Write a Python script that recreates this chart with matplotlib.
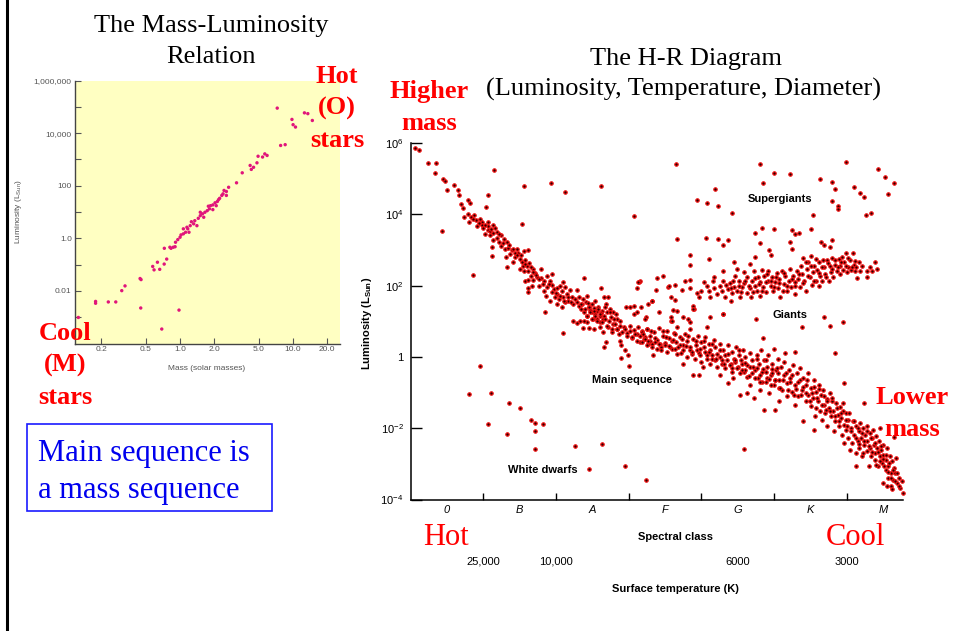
import numpy as np
import matplotlib
matplotlib.use("Agg")
import matplotlib.pyplot as plt
from matplotlib.lines import Line2D
from matplotlib.patches import Rectangle

plt.rcParams['font.family'] = ['Liberation Sans', 'DejaVu Sans']
plt.rcParams['mathtext.fontset'] = 'custom'
plt.rcParams['mathtext.rm'] = 'Liberation Sans'
plt.rcParams['mathtext.it'] = 'Liberation Sans:italic'
plt.rcParams['mathtext.bf'] = 'Liberation Sans:bold'

# ---- mass-luminosity relation: mass (solar masses), log10 luminosity ----
ml_mass = [0.126, 0.179, 0.179, 0.232, 0.270, 0.305, 0.326, 0.449, 0.443, 0.452,
           0.573, 0.589, 0.631, 0.661, 0.724, 0.762, 0.689, 0.979, 0.726, 0.832,
           0.904, 7.24, 9.77, 10.0, 10.5, 12.6, 13.5, 14.8, 7.76, 8.51,
           5.62, 5.89, 5.37, 4.90, 4.79, 4.47, 4.27, 4.17, 3.55, 3.16,
           2.69, 2.57, 2.40, 2.34, 2.24, 2.14, 2.04, 1.95, 1.86, 1.82,
           1.74, 1.66, 1.58, 1.51, 1.45, 1.35, 1.32, 1.23, 1.17, 1.12,
           1.07, 1.00, 0.955, 0.912, 0.871, 0.813, 1.26, 1.41, 1.62, 1.95,
           2.19, 2.45, 2.57, 1.20, 1.07, 1.51, 1.78, 2.09, 1.15, 1.02]
ml_logl = [-3.01, -2.40, -2.47, -2.42, -2.42, -1.99, -1.81, -2.65, -1.53, -1.57,
           -1.07, -1.20, -0.91, -1.18, -0.98, -0.79, -3.45, -2.73, -0.38, -0.38,
           -0.32, 4.95, 4.52, 4.32, 4.23, 4.77, 4.74, 4.48, 3.53, 3.56,
           3.21, 3.15, 3.09, 3.12, 2.87, 2.70, 2.62, 2.77, 2.49, 2.11,
           1.94, 1.78, 1.69, 1.63, 1.52, 1.40, 1.35, 1.27, 1.24, 1.12,
           1.05, 0.99, 0.93, 0.86, 0.76, 0.67, 0.55, 0.48, 0.36, 0.23,
           0.17, 0.04, -0.05, -0.15, -0.34, -0.34, 0.63, 0.48, 0.80, 1.09,
           1.47, 1.82, 1.63, 0.23, 0.36, 0.99, 1.22, 1.24, 0.42, 0.13]
ml_xticks = [0.2, 0.5, 1.0, 2.0, 5.0, 10.0, 20.0]
ml_xlabels = ['0.2', '0.5', '1.0', '2.0', '5.0', '10.0', '20.0']
ml_yticks = [1e-2, 1, 1e2, 1e4, 1e6]
ml_ylabels = ['0.01', '1.0', '100', '10,000', '1,000,000']

# ---- H-R diagram: (spectral position, log10 luminosity) ----
# spectral position: O = 0-1, B = 1-2, A = 2-3, F = 3-4, G = 4-5, K = 5-6, M = 6-
main_seq = [
    (0.06, 5.85), (0.12, 5.80), (0.24, 5.43), (0.35, 5.43), (0.33, 5.17), (0.44, 5.00),
    (0.47, 4.94), (0.60, 4.81), (0.50, 4.67), (0.65, 4.67), (0.66, 4.55), (0.79, 4.40),
    (0.82, 4.32), (0.70, 4.30), (0.72, 4.18), (0.79, 4.02), (0.87, 3.99), (0.74, 3.93),
    (0.83, 3.92), (0.81, 3.79), (0.90, 3.83), (0.92, 3.67), (0.98, 3.79), (0.98, 3.71),
    (0.94, 3.76), (1.00, 3.62), (1.06, 3.79), (1.07, 3.67), (1.13, 3.71), (1.06, 3.57),
    (1.09, 3.53), (1.14, 3.48), (1.19, 3.50), (1.02, 3.44), (1.09, 3.42), (1.13, 3.27),
    (1.19, 3.34), (1.25, 3.42), (1.28, 3.30), (1.21, 3.22), (1.32, 3.23), (1.25, 3.11),
    (1.12, 3.08), (1.30, 3.02), (1.34, 3.06), (1.39, 2.99), (1.41, 3.02), (1.46, 3.02),
    (1.48, 2.92), (1.37, 2.88), (1.31, 2.80), (1.44, 2.80), (1.50, 2.74), (1.56, 2.97),
    (1.62, 2.99), (1.53, 2.65), (1.58, 2.71), (1.41, 2.67), (1.33, 2.53), (1.54, 2.55),
    (1.60, 2.55), (1.63, 2.62), (1.51, 2.46), (1.56, 2.40), (1.62, 2.41), (1.69, 2.46),
    (1.71, 2.34), (1.65, 2.27), (1.74, 2.25), (1.79, 2.46), (1.58, 2.14), (1.62, 2.15),
    (1.69, 2.15), (1.80, 2.21), (1.84, 2.14), (1.88, 2.27), (1.94, 2.32), (1.92, 2.14),
    (1.62, 1.93), (1.61, 1.81), (1.67, 2.00), (1.77, 2.00), (1.83, 1.86), (1.87, 1.95),
    (1.94, 2.02), (1.97, 1.90), (2.01, 1.93), (2.05, 2.00), (2.09, 2.09), (2.13, 1.95),
    (2.08, 1.86), (2.02, 1.76), (1.98, 1.67), (1.86, 1.72), (1.92, 1.58), (2.04, 1.62),
    (2.10, 1.67), (2.15, 1.76), (2.19, 1.88), (2.29, 1.89), (2.22, 1.67), (2.17, 1.58),
    (2.13, 1.53), (2.01, 1.49), (2.08, 1.41), (2.24, 1.49), (2.32, 1.67), (2.37, 1.62),
    (2.42, 1.72), (2.29, 1.53), (2.36, 1.47), (2.41, 1.53), (2.45, 1.41), (2.49, 1.47),
    (2.54, 1.58), (2.58, 1.39), (2.63, 1.30), (2.69, 1.47), (2.72, 1.67), (2.67, 1.39),
    (2.74, 1.35), (2.79, 1.25), (2.83, 1.21), (2.49, 1.25), (2.54, 1.21), (2.60, 1.16),
    (2.42, 1.16), (2.39, 1.25), (2.24, 1.02), (2.33, 1.02), (2.51, 1.07), (2.65, 1.07),
    (2.73, 1.02), (2.84, 1.07), (2.88, 1.02), (3.02, 1.39), (3.07, 1.44), (3.12, 1.25),
    (3.17, 1.41), (3.24, 1.11), (1.85, 1.25),
    (2.10, 0.67), (2.29, 0.95), (2.37, 0.82), (2.45, 0.82), (2.52, 0.79), (2.42, 0.97),
    (2.60, 0.97), (2.65, 0.70), (2.66, 0.28), (2.69, 0.42), (2.72, 0.84), (2.77, 0.70),
    (2.79, 0.93), (2.84, 0.79), (2.86, 0.63), (2.88, 0.46), (2.90, 0.32), (2.90, -0.02),
    (2.95, 0.19), (2.99, 0.05), (3.00, -0.25), (2.93, 0.84), (2.97, 0.67), (3.02, 0.88),
    (3.04, 0.54), (3.07, 0.76), (3.11, 0.65), (3.13, 0.85), (3.16, 0.42), (3.18, 0.72),
    (3.23, 0.56), (3.25, 0.79), (3.27, 0.37), (2.61, 0.84), (2.56, 1.07),
    (3.18, 0.70), (3.21, 0.51), (3.25, 0.77), (3.29, 0.58), (3.32, 0.37), (3.33, 0.05),
    (3.35, 0.70), (3.39, 0.48), (3.42, 0.82), (3.44, 0.28), (3.47, 0.60), (3.50, 0.39),
    (3.52, 0.74), (3.56, 0.54), (3.58, 1.02), (3.59, 0.23), (3.62, 0.67), (3.65, 0.42),
    (3.67, 0.84), (3.70, 0.56), (3.72, 0.11), (3.74, 0.33), (3.75, -0.20), (3.78, 0.63),
    (3.80, 0.46), (3.84, 0.20), (3.84, 0.79), (3.88, 0.51), (3.89, -0.51), (3.92, 0.32),
    (3.95, 0.60), (3.96, -0.51), (3.97, 0.11), (3.99, 0.42), (4.02, -0.28), (4.03, 0.28),
    (4.05, 0.56), (4.07, 0.05), (4.10, 0.37), (4.12, 0.19), (4.14, -0.05), (4.17, 0.48),
    (4.19, 0.28), (4.21, 0.09), (4.25, -0.51), (4.26, 0.37), (4.28, -0.09), (4.30, 0.20),
    (4.33, 0.05), (4.36, -0.72), (4.37, 0.32), (4.40, -0.19), (4.42, 0.14), (4.43, -0.60),
    (4.45, -0.05), (4.48, 0.28), (4.50, -0.28), (4.51, 0.05), (4.53, -1.07), (4.54, -0.09),
    (4.57, 0.19), (4.59, -0.42), (4.60, 0.00), (4.62, -1.02), (4.63, -0.23), (4.66, 0.11),
    (4.67, -0.79), (4.70, -0.09), (4.72, -1.16), (4.73, -0.37), (4.76, 0.05), (4.77, -0.60),
    (4.79, -0.19), (4.81, -0.93), (4.82, 0.19), (4.83, -0.42), (4.86, -0.09), (4.86, -1.49),
    (4.88, -0.70), (4.90, -0.28), (4.92, 0.05), (4.93, -1.02), (4.95, -0.51), (4.97, -0.19),
    (4.99, 0.23), (5.00, -0.79), (5.01, -1.50), (5.03, -0.37), (5.05, -0.05), (5.06, -1.25),
    (5.07, -0.65), (5.09, -0.28), (5.11, -0.93), (5.13, -0.51), (5.14, -0.14), (5.15, 0.11),
    (5.17, -1.11), (5.18, -0.74), (5.20, -0.37), (5.22, -0.60), (5.24, -0.98), (5.26, -0.23),
    (5.28, 0.14), (5.28, -1.35), (5.29, -0.79), (5.31, -0.46), (5.33, -1.11), (5.35, -0.65),
    (5.36, -0.32), (5.38, -0.93), (5.40, -1.81), (5.40, -0.60), (5.43, -1.25), (5.44, -0.79),
    (5.46, -1.07), (5.47, -0.46), (5.50, -1.39), (5.50, -0.88), (5.53, -1.16), (5.54, -2.04),
    (5.55, -0.65), (5.56, -1.67), (5.58, -0.98), (5.60, -1.25), (5.61, -0.79), (5.63, -1.53),
    (5.64, -1.07), (5.66, -1.76), (5.67, -0.93), (5.69, -1.35), (5.70, -1.58), (5.72, -1.19),
    (5.73, -1.95), (5.75, -1.44), (5.76, -1.02), (5.78, -1.67), (5.79, -1.25), (5.81, -1.53),
    (5.82, -2.09), (5.84, -1.81), (5.85, -1.30), (5.87, -1.62), (5.89, -1.95), (5.90, -1.41),
    (5.92, -1.72), (5.93, -2.18), (5.95, -1.53), (5.96, -2.41), (5.96, -1.90), (5.98, -2.04),
    (5.99, -1.58), (6.01, -2.28), (6.02, -1.76), (6.04, -2.60), (6.05, -1.99), (6.07, -2.41),
    (6.08, -1.81), (6.09, -2.18), (6.12, -3.06), (6.12, -2.69), (6.13, -1.95), (6.15, -2.37),
    (6.16, -2.09), (6.17, -2.55), (6.18, -1.86), (6.19, -2.28), (6.21, -2.79), (6.22, -1.99),
    (6.23, -2.46), (6.24, -1.28), (6.25, -2.18), (6.27, -2.65), (6.27, -1.95), (6.28, -2.37),
    (6.30, -3.06), (6.31, -2.14), (6.32, -2.55), (6.33, -2.79), (6.34, -2.28), (6.36, -2.04),
    (6.37, -2.46), (6.38, -2.69), (6.39, -2.88), (6.40, -2.23), (6.41, -2.55), (6.42, -3.06),
    (6.44, -2.37), (6.45, -2.79), (6.46, -1.99), (6.47, -2.60), (6.48, -2.97), (6.49, -2.46),
    (6.50, -2.74), (6.53, -3.16), (6.54, -2.88), (6.55, -2.55), (6.56, -3.39), (6.57, -3.06),
    (6.59, -2.79), (6.60, -3.62), (6.61, -3.25), (6.62, -2.93), (6.63, -3.44), (6.64, -3.11),
    (6.65, -2.25), (6.66, -3.25), (6.68, -2.83), (6.69, -3.53), (6.71, -3.39), (6.73, -3.67),
    (6.77, -3.83), (6.55, -3.62), (6.49, -3.53), (6.62, -3.71),
]

# second pass over the crowded parts of the main sequence
main_seq_more = [
    (0.86, 3.86), (0.95, 3.88), (1.03, 3.70), (1.10, 3.60), (1.16, 3.62), (1.22, 3.45),
    (1.27, 3.20), (1.36, 3.15), (1.43, 2.92), (1.47, 2.85), (1.52, 2.86), (1.58, 2.60),
    (1.66, 2.52), (1.68, 2.38), (1.73, 2.30), (1.76, 2.18), (1.82, 2.05), (1.90, 2.05),
    (1.95, 1.82), (2.00, 1.80), (2.06, 1.72), (2.11, 1.58), (2.16, 1.68), (2.20, 1.55),
    (2.26, 1.62), (2.31, 1.42), (2.35, 1.35), (2.44, 1.52), (2.47, 1.32), (2.52, 1.38),
    (2.56, 1.30), (2.62, 1.22), (2.66, 1.15), (2.70, 1.27), (2.76, 1.12), (2.80, 1.05),
    (2.35, 1.49), (2.40, 1.35), (2.45, 1.39), (2.47, 1.25), (2.52, 1.30), (2.54, 1.16),
    (2.42, 1.16), (2.49, 1.07), (2.56, 1.02), (2.61, 1.21), (2.58, 1.35), (2.38, 1.02),
    (2.63, 0.97), (2.68, 1.07), (2.70, 0.88), (2.74, 1.25), (2.77, 0.79),
    (2.81, 0.93), (2.84, 0.79), (2.88, 0.88), (2.91, 0.70), (2.95, 0.79), (2.97, 0.60),
    (3.02, 0.74), (3.04, 0.56), (3.09, 0.65), (3.11, 0.46), (3.16, 0.60), (3.18, 0.42),
    (3.22, 0.51), (3.25, 0.32), (3.29, 0.46), (3.32, 0.28), (3.36, 0.42), (3.39, 0.23),
    (3.43, 0.37), (3.45, 0.19), (3.50, 0.32), (3.52, 0.14), (3.57, 0.28), (3.59, 0.46),
    (3.64, 0.23), (3.66, 0.09), (3.71, 0.32),
    (3.75, 0.19), (3.80, 0.00), (3.84, 0.28), (3.87, 0.09), (3.91, -0.05), (3.94, 0.19),
    (3.98, 0.05), (4.00, -0.14), (4.05, 0.14), (4.07, -0.05), (4.12, -0.19), (4.14, 0.05),
    (4.19, -0.09), (4.21, -0.28), (4.26, 0.00), (4.28, -0.19), (4.33, -0.32), (4.35, -0.09),
    (4.39, -0.23), (4.42, -0.42), (4.46, -0.14), (4.49, -0.32), (4.53, -0.46), (4.55, -0.19),
    (4.60, -0.37), (4.62, -0.56), (4.67, -0.28), (4.69, -0.46), (4.74, -0.60), (4.76, -0.32),
    (4.81, -0.51), (4.83, -0.70), (4.88, -0.42), (4.90, -0.60), (4.95, -0.79), (4.97, -0.46),
    (5.01, -0.65), (5.04, -0.32), (5.06, -0.88),
    (3.19, 0.63), (3.26, 0.45), (3.30, 0.72), (3.36, 0.54), (3.41, 0.35), (3.47, 0.74),
    (3.51, 0.56), (3.55, 0.30), (3.61, 0.48), (3.64, 0.65), (3.68, 0.28), (3.73, 0.51),
    (3.79, 0.30), (3.82, 0.58), (3.87, 0.14), (3.93, 0.45), (3.98, 0.23), (4.04, 0.46),
    (4.10, 0.14), (4.14, 0.35), (4.20, -0.07), (4.26, 0.19), (4.31, -0.19), (4.36, 0.09),
    (4.42, -0.32), (4.46, -0.09), (4.51, 0.19), (4.56, -0.37), (4.60, -0.17), (4.65, -0.54),
    (4.71, -0.28), (4.76, -0.05), (4.80, -0.70), (4.84, -0.35), (4.89, -0.09), (4.93, -0.63),
    (4.97, -0.35),
    (5.01, -0.65), (5.05, -0.46), (5.08, -0.88), (5.12, -0.65), (5.16, -0.45), (5.19, -0.93),
    (5.21, -0.70), (5.24, -0.51), (5.27, -1.07), (5.30, -0.91), (5.33, -0.70), (5.37, -1.07),
    (5.39, -0.85), (5.43, -1.02), (5.45, -0.65), (5.49, -1.23), (5.52, -1.00), (5.54, -0.85),
    (5.57, -1.44), (5.59, -1.16), (5.62, -0.91), (5.66, -1.35), (5.68, -1.11), (5.71, -1.49),
    (5.73, -1.25), (5.77, -1.53), (5.80, -1.16), (5.83, -1.67), (5.86, -1.44), (5.89, -1.81),
    (5.92, -1.58), (5.94, -1.30), (5.98, -1.76), (6.00, -1.95), (6.03, -1.58), (6.06, -2.09),
    (6.09, -1.81), (6.12, -2.27), (6.15, -1.99), (6.17, -2.43), (6.20, -2.14), (6.22, -2.69),
    (6.24, -2.37), (6.28, -2.09), (6.30, -2.51), (6.33, -2.27), (6.35, -2.67), (6.38, -2.41),
    (6.40, -3.02), (6.43, -2.67), (6.45, -2.92), (6.47, -2.51), (6.49, -2.86), (6.51, -3.06),
    (6.54, -2.74), (6.56, -3.23), (6.58, -2.97), (6.61, -3.39), (6.63, -3.16), (6.66, -3.48),
    (6.69, -3.25), (6.71, -3.62), (6.75, -3.48),
]

giants = [
    (3.16, 2.14), (3.32, 1.58), (3.38, 1.88), (3.39, 2.21), (3.47, 2.27), (3.54, 1.95),
    (3.58, 1.67), (3.63, 2.02), (3.64, 1.60), (3.73, 1.88), (3.77, 2.14), (3.84, 2.15),
    (3.84, 1.93), (3.88, 1.44), (3.90, 1.35), (3.94, 1.78), (3.96, 1.67), (3.99, 1.86),
    (4.03, 2.09), (4.07, 2.00), (4.10, 1.86), (4.12, 1.67), (4.16, 2.14), (4.17, 1.93),
    (4.17, 2.25), (4.22, 1.76), (4.25, 2.00), (4.28, 1.86), (4.29, 2.40), (4.30, 2.14),
    (4.33, 1.67), (4.36, 1.90), (4.39, 2.06), (4.40, 1.58), (4.42, 1.78), (4.45, 1.97),
    (4.46, 2.27), (4.49, 2.46), (4.49, 1.86), (4.52, 2.14), (4.53, 1.69), (4.56, 1.95),
    (4.58, 2.37), (4.59, 2.06), (4.62, 1.78), (4.63, 2.23), (4.66, 1.93), (4.68, 1.67),
    (4.70, 2.14), (4.72, 2.40), (4.74, 2.00), (4.76, 1.86), (4.77, 2.23), (4.80, 1.72),
    (4.81, 2.09), (4.83, 2.43), (4.84, 1.95), (4.86, 2.27), (4.89, 1.81), (4.91, 2.14),
    (4.92, 2.41), (4.95, 2.00), (4.97, 2.23), (4.98, 1.86), (5.01, 2.09), (5.04, 2.34),
    (5.05, 1.93), (5.07, 2.18), (5.08, 1.67), (5.11, 2.41), (5.13, 2.05), (5.15, 2.27),
    (5.18, 1.86), (5.20, 2.14), (5.21, 2.46), (5.23, 1.95), (5.26, 2.27), (5.28, 2.09),
    (5.29, 1.76), (5.31, 2.41), (5.32, 2.18), (5.35, 1.97), (5.37, 2.55), (5.38, 2.32),
    (5.40, 2.77), (5.41, 2.14), (5.43, 1.86), (5.45, 2.46), (5.47, 2.65), (5.49, 2.23),
    (5.50, 2.83), (5.52, 2.02), (5.53, 2.37), (5.55, 2.55), (5.57, 2.14), (5.59, 2.43),
    (5.61, 2.65), (5.62, 2.00), (5.63, 2.27), (5.66, 2.14), (5.67, 2.71), (5.69, 2.51),
    (5.70, 2.32), (5.72, 2.71), (5.75, 2.14), (5.76, 2.55), (5.78, 2.37), (5.79, 2.77),
    (5.81, 2.23), (5.84, 2.58), (5.86, 2.40), (5.89, 2.74), (5.90, 2.32), (5.91, 2.55),
    (5.93, 2.80), (5.95, 2.45), (5.96, 2.65), (5.99, 2.92), (6.00, 2.37), (6.01, 2.53),
    (6.04, 2.71), (6.05, 2.43), (6.08, 2.92), (6.09, 2.58), (6.11, 2.41), (6.14, 2.21),
    (6.16, 2.65), (6.18, 2.41), (6.27, 2.41), (6.28, 2.25), (6.34, 2.41), (6.38, 2.66),
    (6.41, 2.46), (6.13, 2.51),
]

giants_more = [
    (4.34, 2.02), (4.41, 1.93), (4.44, 2.14), (4.51, 2.00), (4.54, 1.81), (4.60, 2.14),
    (4.65, 2.00), (4.71, 1.81), (4.74, 2.21), (4.79, 2.04), (4.83, 1.86), (4.88, 2.09),
    (4.90, 2.32), (4.96, 2.14), (5.00, 1.95), (5.03, 2.23), (5.07, 2.06), (5.12, 1.86),
    (5.14, 2.34), (5.18, 2.00), (5.24, 2.18), (5.29, 2.00), (5.34, 2.32), (5.39, 2.06),
    (5.43, 2.65), (5.46, 2.27), (5.50, 2.55), (5.54, 2.14), (5.58, 2.74), (5.61, 2.34),
    (5.66, 2.53), (5.71, 2.23), (5.74, 2.62), (5.79, 2.46), (5.83, 2.71), (5.88, 2.51),
    (5.92, 2.65), (5.98, 2.55), (6.02, 2.77), (6.07, 2.51), (6.11, 2.69), (6.21, 2.55),
    (6.31, 2.51), (3.14, 2.09), (3.32, 1.58), (3.55, 2.00), (3.66, 1.30), (4.30, 1.21),
]

scattered = [
    # bright stars above the giant branch
    (3.65, 5.41), (4.81, 5.41), (5.99, 5.46), (4.99, 5.15), (5.21, 5.13), (4.85, 4.89),
    (5.63, 5.00), (5.79, 4.91), (5.83, 4.71), (6.43, 5.26), (6.52, 5.06), (6.65, 4.87),
    (6.10, 4.76), (6.18, 4.60), (6.23, 4.48), (6.57, 4.57), (4.18, 4.72), (3.94, 4.41),
    (4.08, 4.32), (4.23, 4.22), (4.42, 4.05), (5.80, 4.37), (5.87, 4.22), (5.87, 4.16),
    (5.53, 3.97), (6.26, 3.99), (6.33, 4.05), (3.67, 3.31), (4.06, 3.33), (4.23, 3.30),
    (4.29, 3.14), (4.36, 3.27), (4.74, 3.47), (4.83, 3.62), (4.99, 3.58), (4.81, 3.20),
    (5.25, 3.55), (5.28, 3.44), (5.34, 3.47), (5.51, 3.60), (5.21, 3.21), (5.24, 3.03),
    (5.64, 3.22), (5.68, 3.13), (5.80, 3.27), (5.77, 3.08), (4.93, 3.00), (4.95, 2.87),
    (4.73, 2.80), (3.84, 2.85), (3.84, 2.58), (4.10, 2.75), (4.45, 2.66), (4.66, 2.60),
    (1.15, 5.25), (1.56, 4.80), (1.93, 4.89), (2.13, 4.63), (2.62, 4.78), (3.07, 3.95),
    (1.07, 4.55), (1.53, 3.73), (0.43, 3.53), (0.86, 2.30), (1.12, 2.83), (2.38, 2.21),
    (2.62, 1.93), (3.13, 2.11), (3.12, 1.93), (3.27, 1.49), (2.96, 1.39), (2.66, 1.67),
    (1.04, 4.21),
    # between the branches
    (3.58, 1.13), (3.61, 1.32), (3.75, 1.13), (3.82, 1.07), (3.89, 1.35), (4.12, 1.11),
    (4.29, 1.21), (4.75, 1.05), (5.69, 1.11), (5.95, 0.97), (3.23, 1.07), (5.84, 0.11),
    (5.96, -0.74), (5.76, 0.88), (5.38, 0.85), (4.85, 0.54), (3.07, 1.21), (3.41, 1.25),
    (3.59, 1.02), (3.84, 0.97), (4.07, 0.84),
]

white_dwarfs = [
    (0.95, -0.26), (0.80, -1.05), (1.11, -1.00), (1.35, -1.28), (1.51, -1.44),
    (1.65, -1.76), (1.71, -1.86), (1.82, -1.88), (1.71, -2.07), (1.06, -1.88),
    (1.33, -2.16), (1.71, -2.58), (2.26, -2.51), (2.63, -2.44), (2.46, -3.14),
    (2.95, -3.06), (3.24, -3.44), (4.59, -2.58),
]

spectral_classes = ['0', 'B', 'A', 'F', 'G', 'K', 'M']
temp_pos = [1.0, 2.0, 4.5, 6.0]
temp_labels = ['25,000', '10,000', '6000', '3000']

W, H = 959, 631


def fxy(x, y):
    # pixel position on the slide -> figure fraction
    return x / W, 1 - y / H


fig = plt.figure(figsize=(W / 100, H / 100), dpi=100)
fig.patch.set_facecolor('white')

# slide edge
fig.add_artist(Line2D([6.5 / W, 6.5 / W], [0, 1], color='black', lw=2.2))

serif = ['Liberation Serif', 'DejaVu Serif']

# ---------------- mass-luminosity panel ----------------
ax1 = fig.add_axes([74.5 / W, 1 - 343.5 / H, 265.5 / W, 263 / H])
ax1.set_facecolor('#ffffc2')
ax1.set_xscale('log')
ax1.set_yscale('log')
ax1.scatter(ml_mass, 10 ** np.array(ml_logl), s=6, color='#e0157a',
            edgecolors='none', zorder=3)
ax1.set_xlim(0.1165, 26)
ax1.set_ylim(1e-4, 1e6)
for s in ['top', 'right']:
    ax1.spines[s].set_visible(False)
for s in ['left', 'bottom']:
    ax1.spines[s].set_color('#444444')
    ax1.spines[s].set_linewidth(1.0)
ax1.set_xticks(ml_xticks)
ax1.set_xticklabels(ml_xlabels)
ax1.set_xticks([], minor=True)
ax1.set_yticks(ml_yticks)
ax1.set_yticklabels(ml_ylabels)
ax1.set_yticks([1e-3, 1e-1, 1e1, 1e3, 1e5], minor=True)
ax1.yaxis.set_minor_formatter(matplotlib.ticker.NullFormatter())
ax1.tick_params(which='both', direction='in', length=4, width=0.8,
                color='#555555', labelsize=6, labelcolor='#555555', pad=2)
fig.text(*fxy(207, 368), 'Mass (solar masses)', fontsize=6, color='#555555',
         ha='center', va='center')
fig.text(*fxy(18, 212), r'Luminosity (L$_{\rm Sun}$)', fontsize=6, color='#555555',
         ha='center', va='center', rotation=90)

fig.text(*fxy(211, 32), 'The Mass-Luminosity', family=serif, fontsize=19,
         ha='center', va='baseline')
fig.text(*fxy(211, 63), 'Relation', family=serif, fontsize=19,
         ha='center', va='baseline')

# ---------------- H-R diagram ----------------
ax2 = fig.add_axes([410.5 / W, 1 - 499.5 / H, 492.5 / W, 356.5 / H])
ax2.set_yscale('log')
for group in [main_seq, main_seq_more, giants, giants_more, scattered, white_dwarfs]:
    xs = [p[0] for p in group]
    ls = [10 ** p[1] for p in group]
    ax2.scatter(xs, ls, s=6, facecolor='#2a0000', edgecolor='#f01010',
                linewidths=0.85, zorder=3, clip_on=False)
ax2.set_xlim(0, 6.77)
ax2.set_ylim(1e-4, 1e6)
for s in ['top', 'right']:
    ax2.spines[s].set_visible(False)
for s in ['left', 'bottom']:
    ax2.spines[s].set_linewidth(1.1)
ax2.set_yticks([1e-4, 1e-2, 1, 1e2, 1e4, 1e6])
ax2.set_yticklabels([r'10$^{-4}$', r'10$^{-2}$', '1', r'10$^{2}$', r'10$^{4}$', r'10$^{6}$'])
ax2.set_yticks([], minor=True)
ax2.tick_params(axis='y', direction='in', length=8, width=1, labelsize=8, pad=5)
ax2.set_xticks([1, 2, 3, 4, 5, 6])
ax2.set_xticklabels([])
ax2.set_xticks(np.arange(7) + 0.5, minor=True)
ax2.set_xticklabels(spectral_classes, minor=True, style='italic', fontsize=8)
ax2.tick_params(axis='x', which='major', direction='in', length=5, width=1)
ax2.tick_params(axis='x', which='minor', length=0, pad=4)

trans = matplotlib.transforms.blended_transform_factory(ax2.transData, fig.transFigure)
for xp, lab in zip(temp_pos, temp_labels):
    ax2.text(xp, 1 - 562 / H, lab, transform=trans, fontsize=8, ha='center', va='center')

ax2.text(5.08, 10 ** 4.44, 'Supergiants', fontsize=8, fontweight='bold', ha='center', va='center')
ax2.text(5.22, 10 ** 1.18, 'Giants', fontsize=8, fontweight='bold', ha='center', va='center')
ax2.text(3.05, 10 ** -0.66, 'Main sequence', fontsize=8, fontweight='bold', ha='center', va='center')
ax2.text(1.82, 10 ** -3.17, 'White dwarfs', fontsize=8, fontweight='bold', ha='center', va='center')

fig.text(*fxy(676, 537), 'Spectral class', fontsize=8, fontweight='bold', ha='center', va='center')
fig.text(*fxy(675, 589), 'Surface temperature (K)', fontsize=8, fontweight='bold',
         ha='center', va='center')
fig.text(*fxy(367, 323), r'Luminosity (L$_{\mathbf{Sun}}$)', fontsize=8, fontweight='bold',
         ha='center', va='center', rotation=90)

fig.text(*fxy(686, 65), 'The H-R Diagram', family=serif, fontsize=19,
         ha='center', va='baseline')
fig.text(*fxy(683, 96), '(Luminosity, Temperature, Diameter)', family=serif, fontsize=19,
         ha='center', va='baseline')

# ---------------- slide annotations ----------------
red = '#ff0000'
for x, y0, lines in [(337, 83, ['Hot', '(O)', 'stars']),
                     (429, 98, ['Higher', 'mass']),
                     (65, 340, ['Cool', '(M)', 'stars']),
                     (912, 404, ['Lower', 'mass'])]:
    for i, t in enumerate(lines):
        fig.text(*fxy(x, y0 + 32 * i), t, family=serif, fontsize=19, fontweight='bold',
                 color=red, ha='center', va='baseline')

fig.text(*fxy(446, 545), 'Hot', family=serif, fontsize=22, color=red, ha='center', va='baseline')
fig.text(*fxy(855, 545), 'Cool', family=serif, fontsize=22, color=red, ha='center', va='baseline')

fig.add_artist(Rectangle(fxy(26.7, 511), 245 / W, 86.7 / H, transform=fig.transFigure,
                         fill=False, edgecolor='#1a1aff', lw=1.2))
fig.text(*fxy(38, 461), 'Main sequence is', family=serif, fontsize=22, color='#0000ee',
         ha='left', va='baseline')
fig.text(*fxy(38, 498), 'a mass sequence', family=serif, fontsize=22, color='#0000ee',
         ha='left', va='baseline')

fig.savefig('out.png', dpi=100, facecolor='white')
